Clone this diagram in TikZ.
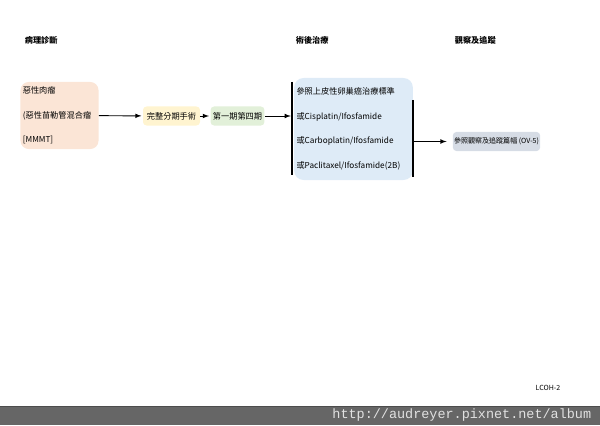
\documentclass[tikz,border=0pt]{standalone}
\usepackage{fontspec}
\setmainfont{Noto Sans CJK TC}
\setmonofont{Liberation Mono}
\usetikzlibrary{positioning,calc}
\definecolor{mypeach}{RGB}{251,229,214}
\definecolor{myyellow}{RGB}{255,244,208}
\definecolor{mygreen}{RGB}{226,240,217}
\definecolor{myblue}{RGB}{222,235,247}
\definecolor{mygray}{RGB}{214,220,229}
\definecolor{mybar}{RGB}{102,102,102}
\definecolor{myurl}{RGB}{225,225,225}

\begin{document}
\begin{tikzpicture}[x=0.03cm,y=-0.03cm,
  every node/.style={font=\fontsize{7}{8.5}\selectfont,inner sep=2pt},
  stage/.style={fill=#1,rounded corners=3pt,minimum height=0.57cm},
  head/.style={anchor=west,font=\fontsize{7}{8}\selectfont\bfseries},
  bar/.style={line width=1.2pt},
  ->,>=latex,line width=0.8pt
]
\useasboundingbox (0,0) rectangle (600,425);

% the headers
\node[head] (h1) at (22,40) {病理診斷};
\node[head] (h2) at (293,40) {術後治療};
\node[head] (h3) at (452,40) {觀察及追蹤};

% the diagnosis
\node[stage=mypeach,rounded corners=7pt,minimum width=2.25cm,minimum height=2.01cm,
  text width=2.2cm,align=left] (diag) at (59.5,115.5)
  {惡性肉瘤\\[12.5pt](惡性苗勒管混合瘤\\[12.5pt][MMMT]};

% the surgery and stages
\node[stage=myyellow,minimum width=1.71cm] (surg) at (171.5,116) {完整分期手術};
\node[stage=mygreen,minimum width=1.35cm] (stg) at (237.5,116) {第一期第四期};

% the treatment
\node[stage=myblue,rounded corners=8pt,minimum width=3.51cm,minimum height=3.06cm,
  text width=3.42cm,align=left] (trt) at (353.5,129)
  {參照上皮性卵巢癌治療標準\\[12.5pt]或Cisplatin/Ifosfamide\\[12.5pt]
   或Carboplatin/Ifosfamide\\[12.5pt]或Paclitaxel/Ifosfamide(2B)};
\coordinate (tl1) at (292,82);
\coordinate (tl2) at (292,175);
\coordinate (tr1) at (413,100);
\coordinate (tr2) at (413,177);
\coordinate (tout) at (413,141.5);

% the follow-up
\node[stage=mygray,minimum width=2.61cm,inner sep=1pt,font=\fontsize{6}{7}\selectfont]
  (fu) at (496.5,141.5) {參照觀察及追蹤篇幅 (OV-5)};

% the edges
\draw[shorten >=1pt] (diag) -- (surg);
\draw[shorten >=1pt] (surg) -- (stg);
\draw[shorten >=2.5pt] (stg) -- (stg -| trt.west);
\draw[-,bar] (tl1) -- (tl2);
\draw[-,bar] (tr1) -- (tr2);
\draw[shorten >=5pt] (tout) -- (fu);

% the page footer
\node[font=\fontsize{6}{7}\selectfont] (pg) at (548,388) {LCOH-2};
\fill[mybar] (0,406) rectangle (600,425);
\draw[-,line width=0.6pt,black!70] (0,406) -- (600,406);
\node[anchor=east,font=\fontsize{11.5}{12}\ttfamily,text=myurl] (url) at (594,415.5)
  {http://audreyer.pixnet.net/album};
\end{tikzpicture}
\end{document}
